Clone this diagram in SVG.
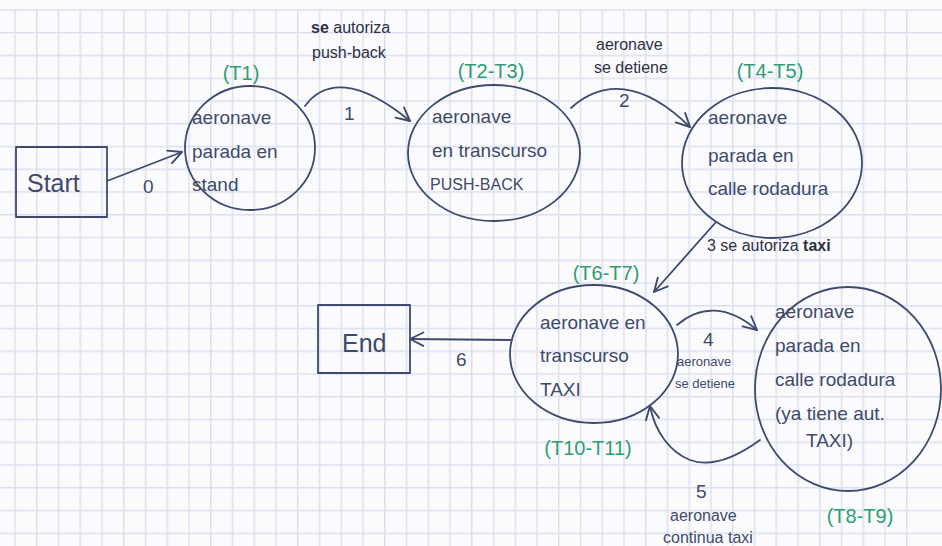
<svg xmlns="http://www.w3.org/2000/svg" width="942" height="546" viewBox="0 0 942 546">
  <defs>
    <!-- squared notebook paper -->
    <pattern id="gridH" patternUnits="userSpaceOnUse" x="0" y="9.25" width="942" height="22.75">
      <line x1="0" y1="0.75" x2="942" y2="0.75" stroke="#dcdff0" stroke-width="1.5"/>
    </pattern>
    <pattern id="gridV" patternUnits="userSpaceOnUse" x="14.25" y="0" width="21.75" height="546">
      <line x1="0.75" y1="0" x2="0.75" y2="546" stroke="#dcdff0" stroke-width="1.5"/>
    </pattern>
    <marker id="arrow" viewBox="0 0 12 12" refX="11" refY="6" markerWidth="16" markerHeight="16" markerUnits="userSpaceOnUse" orient="auto">
      <path d="M1,1 L11,6 L1,11" fill="none" stroke="#3e4a6c" stroke-width="1.4" stroke-linecap="round" stroke-linejoin="round"/>
    </marker>
    <style>
      .ink { fill: none; stroke: #3e4a6c; stroke-width: 1.8; stroke-linecap: round; stroke-linejoin: round; }
      .edge { fill: none; stroke: #3e4a6c; stroke-width: 1.8; stroke-linecap: round; marker-end: url(#arrow); }
      .t { font-family: "Liberation Sans", Arial, sans-serif; fill: #3e4a6c; font-size: 19px; }
      .pen { fill: #2c3043; }
      .s { font-size: 16px; }
      .xs { font-size: 13px; }
      .big { font-size: 25px; }
      .tag { font-family: "Liberation Sans", Arial, sans-serif; fill: #2e9e73; font-size: 20px; text-anchor: middle; }
    </style>
  </defs>

  <rect width="942" height="546" fill="#fbfbfd"/>
  <rect x="0" y="9" width="942" height="537" fill="url(#gridH)"/>
  <rect x="14" y="9" width="894" height="537" fill="url(#gridV)"/>

  <g id="connectors">
    <path class="edge" d="M107,181 L182,152"/>
    <text class="t" x="143" y="193">0</text>

    <path class="edge" d="M305,106 C324,80 358,78 410,121"/>
    <text class="t" x="344" y="120">1</text>
    <text class="t s pen" x="311" y="33"><tspan font-weight="bold">se</tspan> autoriza</text>
    <text class="t s pen" x="312" y="58">push-back</text>

    <path class="edge" d="M571,108 C602,80 642,80 690,127"/>
    <text class="t" x="619" y="107">2</text>
    <text class="t s pen" x="596" y="50">aeronave</text>
    <text class="t s pen" x="594" y="73">se detiene</text>

    <path class="edge" d="M716,222 L654,292"/>
    <text class="t s pen" x="707" y="251">3 se autoriza <tspan font-weight="bold">taxi</tspan></text>

    <path class="edge" d="M677,325 C700,305 728,305 757,330"/>
    <text class="t" x="703" y="346">4</text>
    <text class="t xs" x="677" y="366">aeronave</text>
    <text class="t xs" x="675" y="388">se detiene</text>

    <path class="edge" d="M760,440 C738,456 712,468 690,460 C670,452 655,432 650,406"/>
    <text class="t" x="696" y="498">5</text>
    <text class="t s" x="670" y="521">aeronave</text>
    <text class="t s" x="663" y="543">continua taxi</text>

    <path class="edge" d="M512,340 L410,339"/>
    <text class="t" x="456" y="366">6</text>
  </g>

  <g id="start">
    <rect class="ink" x="16" y="147" width="91" height="70"/>
    <text class="t big" x="27" y="192">Start</text>
  </g>

  <g id="t1">
    <ellipse class="ink" cx="250" cy="148" rx="65" ry="62"/>
    <text class="tag" x="241" y="80">(T1)</text>
    <text class="t" x="192" y="124">aeronave</text>
    <text class="t" x="192" y="158">parada en</text>
    <text class="t" x="192" y="191">stand</text>
  </g>

  <g id="t2-t3">
    <ellipse class="ink" cx="494" cy="153" rx="86" ry="68"/>
    <text class="tag" x="491" y="78">(T2-T3)</text>
    <text class="t" x="432" y="123">aeronave</text>
    <text class="t" x="432" y="157">en transcurso</text>
    <text class="t s" x="430" y="190">PUSH-BACK</text>
  </g>

  <g id="t4-t5">
    <ellipse class="ink" cx="772" cy="163" rx="90" ry="75"/>
    <text class="tag" x="770" y="78">(T4-T5)</text>
    <text class="t" x="708" y="124">aeronave</text>
    <text class="t" x="708" y="162">parada en</text>
    <text class="t" x="708" y="195">calle rodadura</text>
  </g>

  <g id="t6-t7">
    <ellipse class="ink" cx="594" cy="354" rx="84" ry="69"/>
    <text class="tag" x="606" y="280">(T6-T7)</text>
    <text class="t" x="540" y="329">aeronave en</text>
    <text class="t" x="540" y="362">transcurso</text>
    <text class="t" x="540" y="396">TAXI</text>
    <text class="tag" x="588" y="455">(T10-T11)</text>
  </g>

  <g id="t8-t9">
    <ellipse class="ink" cx="848" cy="389" rx="93" ry="102"/>
    <text class="t" x="775" y="318">aeronave</text>
    <text class="t" x="775" y="352">parada en</text>
    <text class="t" x="775" y="386">calle rodadura</text>
    <text class="t" x="775" y="420">(ya tiene aut.</text>
    <text class="t" x="806" y="447">TAXI)</text>
    <text class="tag" x="860" y="523">(T8-T9)</text>
  </g>

  <g id="end">
    <rect class="ink" x="318" y="305" width="92" height="68"/>
    <text class="t big" x="342" y="352">End</text>
  </g>
</svg>
